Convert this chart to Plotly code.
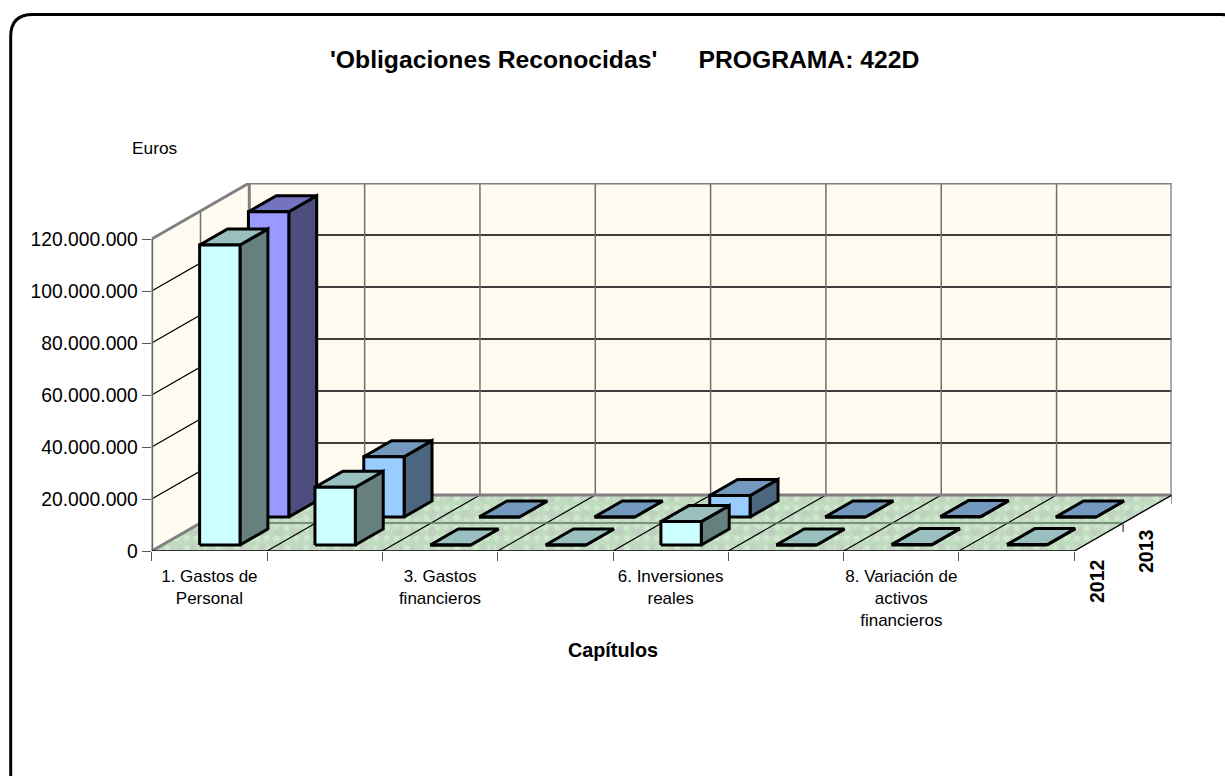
import plotly.graph_objects as go

# ---- data -------------------------------------------------------------
capitulos = ["1. Gastos de<br>Personal", "", "3. Gastos<br>financieros", "",
             "6. Inversiones<br>reales", "", "8. Variación de<br>activos<br>financieros", ""]
anios = ["2012", "2013"]
valores_2012 = [115400000, 22200000, 0, 0, 9000000, 0, 150000, 150000]
valores_2013 = [117400000, 23200000, 0, 0, 8300000, 0, 150000, 0]
ticks_euros = [0, 20000000, 40000000, 60000000, 80000000, 100000000, 120000000]
ticks_texto = ["0", "20.000.000", "40.000.000", "60.000.000", "80.000.000", "100.000.000", "120.000.000"]

# ---- pseudo-3D projection (depth shift expressed in axis units) --------
W, H = 1225, 776
PX_L, PX_R, PY_0, PY_TOP = 151.7, 1171.7, 551.0, 183.0
PX_CAT = (1074.3 - 151.7) / 8
PX_EUR = 312.0 / 120000000
DX = 97.6 / PX_CAT
DY = 56.0 / PX_EUR
N = len(capitulos)
VMAX = ticks_euros[-1]
BAR_W = 0.35
ROW = 0.5
GAP = 0.107
BAR_D = 0.286

FRONT = ["#CCFFFF", "#CCFFFF"]
TOP = ["#99BFBF", "#7399BF"]
SIDE = ["#668080", "#4D6680"]
OVERRIDE_2013_0 = ("#9999FF", "#7373BF", "#4D4D80")

WALL_EDGE = "#808080"
fig = go.Figure()


def poly(xs, ys, fill, line="#000000", lw=3, **kw):
    fig.add_trace(go.Scatter(x=xs, y=ys, mode="lines", fill="toself", fillcolor=fill,
                             line=dict(color=line, width=lw), hoverinfo="skip",
                             showlegend=False, cliponaxis=False, **kw))


def seg(xs, ys, color, lw):
    fig.add_trace(go.Scatter(x=xs, y=ys, mode="lines", line=dict(color=color, width=lw),
                             hoverinfo="skip", showlegend=False, cliponaxis=False))


# walls
CREAM = "#FFFBF0"
poly([DX, N + DX, N + DX, DX, DX], [DY, DY, VMAX + DY, VMAX + DY, DY], CREAM, line=CREAM, lw=0)
poly([0, DX, DX, 0, 0], [0, DY, VMAX + DY, VMAX, 0], CREAM, line=CREAM, lw=0)

# floor: mottled green
floor_x = [0, N, N + DX, DX, 0]
floor_y = [0, 0, DY, DY, 0]
for bg, fg, size, sol in (("#BFDCBF", "#E2F0E2", 10, 0.3), ("rgba(0,0,0,0)", "#BFC6BF", 17, 0.25)):
    fig.add_trace(go.Scatter(x=floor_x, y=floor_y, mode="lines", fill="toself", fillcolor="rgba(0,0,0,0)" if bg.startswith("rgba") else bg,
                             line=dict(width=0), hoverinfo="skip", showlegend=False,
                             fillpattern=dict(shape=".", bgcolor=bg, fgcolor=fg, size=size, solidity=sol)))

# wall grid
for v in ticks_euros[1:-1]:
    seg([0, DX, N + DX], [v, v + DY, v + DY], "#000000", 1.3)
for i in range(1, N):
    seg([i + DX, i + DX], [DY, VMAX + DY], "#707070", 1.5)
seg([0.5 * DX, 0.5 * DX], [0.5 * DY, VMAX + 0.5 * DY], "#707070", 1.5)

# floor grid
for i in range(1, N):
    seg([i, i + DX], [0, DY], "#000000", 1.2)
seg([0.5 * DX, N + 0.5 * DX], [0.5 * DY, 0.5 * DY], "#5F7A5F", 1.7)

# wall edges
seg([0, 0, DX, N + DX, N + DX, DX, 0], [0, VMAX, VMAX + DY, VMAX + DY, DY, DY, 0], WALL_EDGE, 3)
seg([DX, DX], [DY, VMAX + DY], WALL_EDGE, 3)
seg([0, 0], [0, VMAX], "#606060", 2.2)
seg([0, N, N + DX], [0, 0, DY], "#000000", 1.4)

# depth-axis ticks
for d in (0, ROW, 2 * ROW):
    seg([N + d * DX, N + d * DX], [d * DY, d * DY - 9 / PX_EUR], "#555555", 1.4)

# bars: back row first
for s in (1, 0):
    vals = valores_2013 if s == 1 else valores_2012
    d0 = s * ROW + GAP
    d1 = d0 + BAR_D
    for i, v in enumerate(vals):
        front, top, side = FRONT[s], TOP[s], SIDE[s]
        if s == 1:
            front = "#99CCFF"
            if i == 0:
                front, top, side = OVERRIDE_2013_0
        a = i + (1 - BAR_W) / 2
        b = a + BAR_W
        xa0, xb0 = a + d0 * DX, b + d0 * DX
        xa1, xb1 = a + d1 * DX, b + d1 * DX
        y0 = d0 * DY
        y1 = d1 * DY
        poly([xb0, xb1, xb1, xb0, xb0], [y0, y1, y1 + v, y0 + v, y0], side)
        poly([xa0, xb0, xb1, xa1, xa0], [y0 + v, y0 + v, y1 + v, y1 + v, y0 + v], top)
        poly([xa0, xb0, xb0, xa0, xa0], [y0, y0, y0 + v, y0 + v, y0], front)

label_pos = [i + 0.5 for i, c in enumerate(capitulos) if c]
label_txt = [c for c in capitulos if c]

fig.update_layout(
    width=W, height=H, autosize=False, margin=dict(l=0, r=0, t=0, b=0),
    paper_bgcolor="white", plot_bgcolor="rgba(0,0,0,0)",
    font=dict(family="Liberation Sans, Arial, sans-serif", color="#000000", size=17),
    xaxis=dict(domain=[PX_L / W, PX_R / W], range=[0, (PX_R - PX_L) / PX_CAT], showgrid=False, zeroline=False,
               showline=False, tickmode="array", tickvals=label_pos, ticktext=label_txt, ticks="",
               tickangle=0, tickfont=dict(size=17), fixedrange=True, automargin=False, ticklabelstandoff=13,
               minor=dict(tickmode="array", tickvals=list(range(N + 1)), ticks="outside", ticklen=9, tickwidth=1.4,
                          tickcolor="#555555", showgrid=False)),
    yaxis=dict(domain=[(H - PY_0) / H, (H - PY_TOP) / H], range=[0, (PY_0 - PY_TOP) / PX_EUR], showgrid=False,
               zeroline=False, showline=False, tickmode="array", tickvals=ticks_euros, ticktext=ticks_texto,
               ticks="outside", ticklen=9, tickwidth=1.4, tickcolor="#555555", tickfont=dict(size=19.3),
               fixedrange=True, automargin=False),
    annotations=[
        dict(text="<b>'Obligaciones Reconocidas'\u00a0\u00a0\u00a0\u00a0\u00a0\u00a0PROGRAMA: 422D</b>", xref="paper", yref="paper",
             x=624.5 / W, y=1 - 60 / H, showarrow=False, font=dict(size=24.7, color="#000000"), xanchor="center", yanchor="middle"),
        dict(text="Euros", xref="paper", yref="paper", x=154.5 / W, y=1 - 148 / H, showarrow=False,
             font=dict(size=17.3), xanchor="center", yanchor="middle"),
        dict(text="<b>Capítulos</b>", xref="paper", yref="paper", x=613 / W, y=1 - 650 / H, showarrow=False,
             font=dict(size=19.8), xanchor="center", yanchor="middle"),
        dict(text="<b>" + anios[0] + "</b>", xref="paper", yref="paper", x=1097 / W, y=1 - 581 / H, showarrow=False,
             textangle=-90, font=dict(size=19.5), xanchor="center", yanchor="middle"),
        dict(text="<b>" + anios[1] + "</b>", xref="paper", yref="paper", x=1146 / W, y=1 - 551 / H, showarrow=False,
             textangle=-90, font=dict(size=19.5), xanchor="center", yanchor="middle"),
    ],
)

# outer rounded frame (runs past the right and bottom of the page)
x0, y0, x1, y1, r = 10.7 / W, 1 - 14.5 / H, 1243 / W, 1 - 795 / H, 22
rx, ry = r / W, r / H
path = (f"M {x0},{y1 + ry} L {x0},{y0 - ry} Q {x0},{y0} {x0 + rx},{y0} L {x1 - rx},{y0} Q {x1},{y0} {x1},{y0 - ry} "
        f"L {x1},{y1 + ry} Q {x1},{y1} {x1 - rx},{y1} L {x0 + rx},{y1} Q {x0},{y1} {x0},{y1 + ry} Z")
fig.add_shape(type="path", path=path, xref="paper", yref="paper", line=dict(color="#000000", width=3), layer="above")

fig.write_html("out.html", config=dict(displayModeBar=False),
               post_script="document.body.style.margin='0';document.body.style.overflow='hidden';")
